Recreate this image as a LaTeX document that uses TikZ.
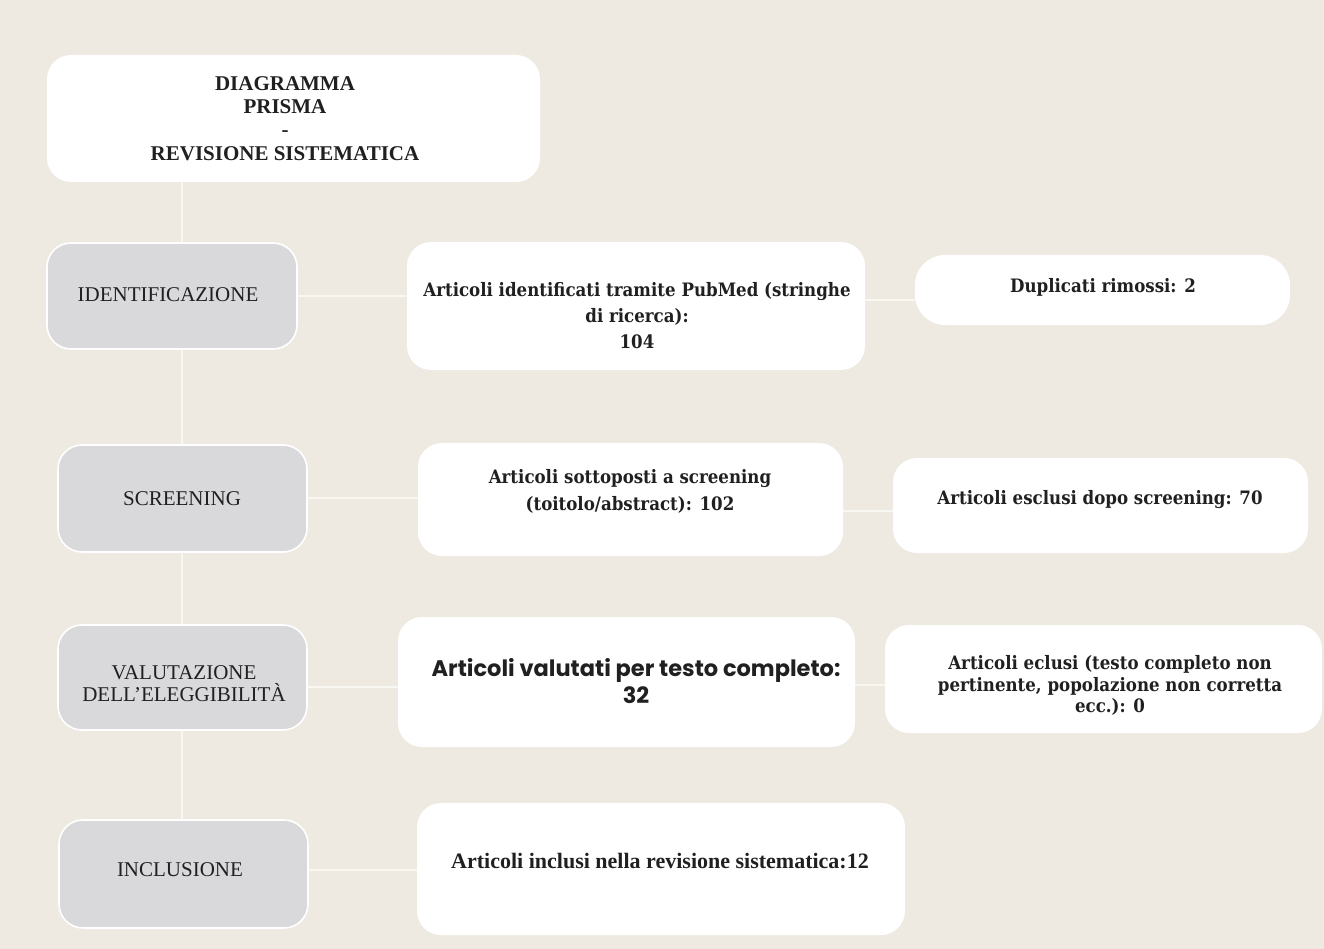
\documentclass[tikz,border=0pt]{standalone}
\usepackage{fontspec}
\setmainfont{Liberation Serif}
\newfontfamily\dvcond{DejaVu Serif Condensed}
\newfontfamily\popfont{Poppins}
\usetikzlibrary{backgrounds}
\definecolor{bgc}{RGB}{238,234,226}
\definecolor{gboxc}{RGB}{217,217,219}
\definecolor{linec}{RGB}{249,247,242}
\definecolor{txtc}{RGB}{32,32,32}
\tikzset{
  wbox/.style={fill=white, draw=none, rounded corners=24pt, inner sep=0pt},
  gbox/.style={fill=gboxc, draw=white, line width=1.6pt, rounded corners=24pt, inner sep=0pt},
  conn/.style={draw=linec, line width=2pt},
  ttl/.style={font=\bfseries\fontsize{21}{23.3}\selectfont, align=center, text=txtc, inner sep=0pt},
  phase/.style={font=\fontsize{21}{22}\selectfont, align=center, text=txtc, inner sep=0pt},
  wide/.style={font=\dvcond\bfseries\fontsize{18.5}{26}\selectfont, align=center, text=txtc, inner sep=0pt},
  tms/.style={font=\bfseries\fontsize{22}{26}\selectfont, align=center, text=txtc, inner sep=0pt},
  sans/.style={font=\popfont\bfseries\fontsize{22.5}{27}\selectfont, align=center, text=txtc, inner sep=0pt},
}
\begin{document}
\begin{tikzpicture}[x=1pt,y=-1pt]
\useasboundingbox (0,0) rectangle (1324,949);
% boxes
\node[wbox, minimum width=493pt, minimum height=127pt] (title) at (293.5,118.5) {};
\node[gbox, minimum width=250pt, minimum height=106pt] (ident) at (172,296) {};
\node[wbox, minimum width=458pt, minimum height=128pt] (artid) at (636,306) {};
\node[wbox, minimum width=375pt, minimum height=70pt, rounded corners=30pt] (dup) at (1102.5,290) {};
\node[gbox, minimum width=249pt, minimum height=107pt] (screen) at (182.5,498.5) {};
\node[wbox, minimum width=425pt, minimum height=113pt] (sott) at (630.5,499.5) {};
\node[wbox, minimum width=415pt, minimum height=95pt] (escl) at (1100.5,505.5) {};
\node[gbox, minimum width=249pt, minimum height=105pt] (valut) at (182.5,677.5) {};
\node[wbox, minimum width=457pt, minimum height=130pt] (valt) at (626.5,682) {};
\node[wbox, minimum width=437pt, minimum height=108pt] (ecl) at (1103.5,679) {};
\node[gbox, minimum width=249pt, minimum height=108pt] (incl) at (183.5,874) {};
\node[wbox, minimum width=488pt, minimum height=132pt] (incl2) at (661,869) {};
% texts
\node[ttl] (title-t) at (285,118.5) {DIAGRAMMA\\PRISMA\\-\\REVISIONE SISTEMATICA};
\node[phase] (ident-t) at (168,294.5) {IDENTIFICAZIONE};
\node[wide] (artid-t) at (637,315.5) {Articoli identificati tramite PubMed (stringhe\\di ricerca):\\104};
\node[wide] (dup-t) at (1103,287.5) {Duplicati rimossi: 2};
\node[phase] (screen-t) at (182,498.5) {SCREENING};
\node[wide, font=\dvcond\bfseries\fontsize{18.5}{27}\selectfont] (sott-t) at (630,491) {Articoli sottoposti a screening\\(toitolo/abstract): 102};
\node[wide] (escl-t) at (1100,500) {Articoli esclusi dopo screening: 70};
\node[phase] (valut-t) at (184,684) {VALUTAZIONE\\DELL'ELEGGIBILITÀ};
\node[sans] (valt-t) at (636,681) {Articoli valutati per testo completo:\\32};
\node[wide, font=\dvcond\bfseries\fontsize{18.5}{21.5}\selectfont] (ecl-t) at (1110,685.5) {Articoli eclusi (testo completo non\\pertinente, popolazione non corretta\\ecc.): 0};
\node[phase] (incl-t) at (180,869.5) {INCLUSIONE};
\node[tms] (incl2-t) at (660,861.5) {Articoli inclusi nella revisione sistematica:12};
% connectors and background
\coordinate (sp) at (182,0);
\coordinate (y1) at (0,296);
\coordinate (y2) at (0,300);
\coordinate (y3) at (0,498);
\coordinate (y4) at (0,511);
\coordinate (y5) at (0,687);
\coordinate (y6) at (0,685);
\coordinate (y7) at (0,870);
\begin{pgfonlayer}{background}
\fill[bgc] (0,0) rectangle (1324,949);
\draw[conn] (title.south -| sp) -- (incl.north -| sp);
\draw[conn] (ident.east |- y1) -- (artid.west |- y1);
\draw[conn] (artid.east |- y2) -- (dup.west |- y2);
\draw[conn] (screen.east |- y3) -- (sott.west |- y3);
\draw[conn] (sott.east |- y4) -- (escl.west |- y4);
\draw[conn] (valut.east |- y5) -- (valt.west |- y5);
\draw[conn] (valt.east |- y6) -- (ecl.west |- y6);
\draw[conn] (incl.east |- y7) -- (incl2.west |- y7);
\end{pgfonlayer}
\end{tikzpicture}
\end{document}
